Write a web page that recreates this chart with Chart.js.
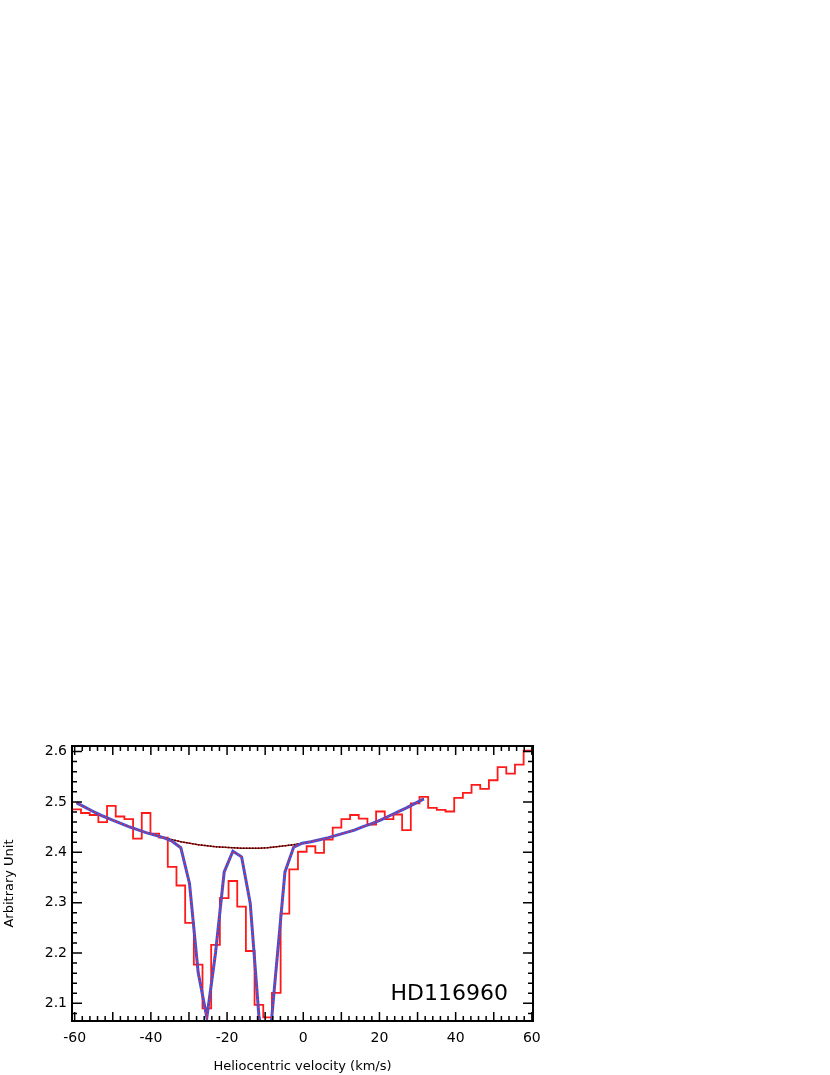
<!DOCTYPE html>
<html>
<head>
<meta charset="utf-8">
<script src="https://cdn.jsdelivr.net/npm/chart.js@4.4.0/dist/chart.umd.min.js"></script>
<style>
  html, body { margin: 0; padding: 0; background: #fff; }
  #wrap { width: 830px; height: 1075px; }
</style>
</head>
<body>
<div id="wrap"><canvas id="spec" width="830" height="1075"></canvas></div>
<script>
// bin centres of the spectrum (km/s)
const velocity = [-59.48, -57.20, -54.92, -52.64, -50.36, -48.08, -45.81, -43.53, -41.25, -38.97,
  -36.70, -34.42, -32.14, -29.86, -27.58, -25.31, -23.03, -20.75, -18.47, -16.19,
  -13.92, -11.64, -9.36, -7.08, -4.80, -2.53, -0.25, 2.03, 4.31, 6.59,
  8.86, 11.14, 13.42, 15.70, 17.98, 20.25, 22.53, 24.81, 27.09, 29.37,
  31.64, 33.92, 36.20, 38.48, 40.76, 43.03, 45.31, 47.59, 49.87, 52.15,
  54.42, 56.70, 58.98];
// observed flux in each bin
const flux = [2.485, 2.478, 2.474, 2.460, 2.492, 2.471, 2.466, 2.427, 2.478, 2.437,
  2.429, 2.371, 2.334, 2.260, 2.177, 2.090, 2.216, 2.309, 2.343, 2.292,
  2.204, 2.097, 2.072, 2.121, 2.278, 2.366, 2.401, 2.412, 2.399, 2.425,
  2.449, 2.466, 2.474, 2.467, 2.455, 2.481, 2.466, 2.475, 2.444, 2.497,
  2.510, 2.488, 2.484, 2.481, 2.508, 2.518, 2.534, 2.526, 2.543, 2.569,
  2.556, 2.574, 2.602];
// model curves are only given up to ~32 km/s
const modelVelocity = velocity.slice(0, 41);
const continuum = [2.498, 2.489, 2.480, 2.472, 2.465, 2.458, 2.451, 2.445, 2.439, 2.434,
  2.429, 2.425, 2.421, 2.418, 2.415, 2.413, 2.411, 2.410, 2.409, 2.408,
  2.408, 2.408, 2.409, 2.411, 2.413, 2.415, 2.418, 2.421, 2.425, 2.429,
  2.434, 2.439, 2.444, 2.451, 2.457, 2.464, 2.472, 2.480, 2.488, 2.497,
  2.506];
const fit = [2.498, 2.489, 2.480, 2.472, 2.465, 2.458, 2.451, 2.445, 2.439, 2.434,
  2.429, 2.422, 2.409, 2.338, 2.161, 2.072, 2.200, 2.361, 2.402, 2.391,
  2.299, 2.075, 1.980, 2.172, 2.361, 2.410, 2.418, 2.421, 2.425, 2.429,
  2.434, 2.439, 2.444, 2.451, 2.457, 2.464, 2.472, 2.480, 2.488, 2.497,
  2.506];
const xTicks = [-60, -40, -20, 0, 20, 40, 60];
const yTicks = [2.1, 2.2, 2.3, 2.4, 2.5, 2.6];
const binWidth = 2.278;
const starName = "HD116960";

const FONT = "DejaVu Sans";

// histogram: add the outer edges so first/last bins are drawn full width
const histPoints = velocity.map((v, i) => ({ x: v, y: flux[i] }));
histPoints.unshift({ x: velocity[0] - binWidth / 2, y: flux[0] });
histPoints.push({ x: velocity[velocity.length - 1] + binWidth / 2, y: flux[flux.length - 1] });

const contPoints = modelVelocity.map((v, i) => ({ x: v, y: continuum[i] }));
const fitPoints = modelVelocity.map((v, i) => ({ x: v, y: fit[i] }));

// inward ticks on all four sides, frame, star label
const framePlugin = {
  id: "frame",
  afterDatasetsDraw(chart) {
    const { ctx, chartArea: a, scales: { x, y } } = chart;
    ctx.save();
    ctx.strokeStyle = "#000";
    ctx.lineWidth = 1.5;
    ctx.beginPath();
    for (let i = Math.ceil(x.min / 2); i <= Math.floor(x.max / 2); i++) {
      const px = x.getPixelForValue(i * 2);
      const len = (i * 2) % 10 === 0 ? 9 : 5;
      ctx.moveTo(px, a.bottom); ctx.lineTo(px, a.bottom - len);
      ctx.moveTo(px, a.top); ctx.lineTo(px, a.top + len);
    }
    for (let i = Math.ceil(y.min * 50); i <= Math.floor(y.max * 50); i++) {
      const py = y.getPixelForValue(i / 50);
      const len = i % 5 === 0 ? 10 : 5;
      ctx.moveTo(a.left, py); ctx.lineTo(a.left + len, py);
      ctx.moveTo(a.right, py); ctx.lineTo(a.right - len, py);
    }
    ctx.stroke();
    ctx.lineWidth = 2;
    ctx.strokeRect(a.left, a.top, a.right - a.left, a.bottom - a.top);

    ctx.fillStyle = "#000";
    ctx.font = "22px '" + FONT + "'";
    ctx.textAlign = "right";
    ctx.textBaseline = "alphabetic";
    ctx.fillText(starName, a.right - 25, a.bottom - 21);
    ctx.restore();
  }
};

new Chart(document.getElementById("spec"), {
  type: "line",
  data: {
    datasets: [
      { // red dots drawn on the blue fit
        data: fitPoints, borderColor: "#ff2a2a", borderWidth: 1.2,
        borderDash: [2, 2], pointRadius: 0, tension: 0, order: 1
      },
      {
        data: fitPoints, borderColor: "#3c50dc", borderWidth: 3,
        pointRadius: 0, tension: 0, order: 2
      },
      { // continuum: black dots on red
        data: contPoints, borderColor: "#000", borderWidth: 1.4,
        borderDash: [1.5, 1.5], pointRadius: 0, tension: 0, order: 3
      },
      {
        data: contPoints, borderColor: "#d01010", borderWidth: 1.4,
        pointRadius: 0, tension: 0, order: 4
      },
      {
        data: histPoints, borderColor: "#ff1a1a", borderWidth: 1.8,
        stepped: "middle", pointRadius: 0, order: 5
      }
    ]
  },
  options: {
    responsive: false,
    animation: false,
    layout: { padding: { top: 746, right: 297, left: 0, bottom: 0 } },
    plugins: { legend: { display: false }, tooltip: { enabled: false } },
    scales: {
      x: {
        type: "linear",
        min: -60.7,
        max: 60.3,
        grid: { display: false, drawTicks: false },
        border: { display: false },
        afterBuildTicks: s => { s.ticks = xTicks.map(v => ({ value: v })); },
        afterFit: s => { s.height = 54; },
        ticks: {
          padding: 9, color: "#000", maxRotation: 0, autoSkip: false,
          font: { family: FONT, size: 14 }
        },
        title: {
          display: true, text: "Heliocentric velocity (km/s)", color: "#000",
          font: { family: FONT, size: 13 }, padding: { top: 0, bottom: 1 }
        }
      },
      y: {
        type: "linear",
        min: 2.065,
        max: 2.611,
        grid: { display: false, drawTicks: false },
        border: { display: false },
        afterBuildTicks: s => { s.ticks = yTicks.map(v => ({ value: v })); },
        afterFit: s => { s.width = 72; },
        ticks: {
          padding: 5, color: "#000",
          font: { family: FONT, size: 14 },
          callback: v => v.toFixed(1)
        },
        title: {
          display: true, text: "Arbitrary Unit", color: "#000",
          font: { family: FONT, size: 13 }, padding: { top: 2, bottom: 0 }
        }
      }
    }
  },
  plugins: [framePlugin]
});
</script>
</body>
</html>
